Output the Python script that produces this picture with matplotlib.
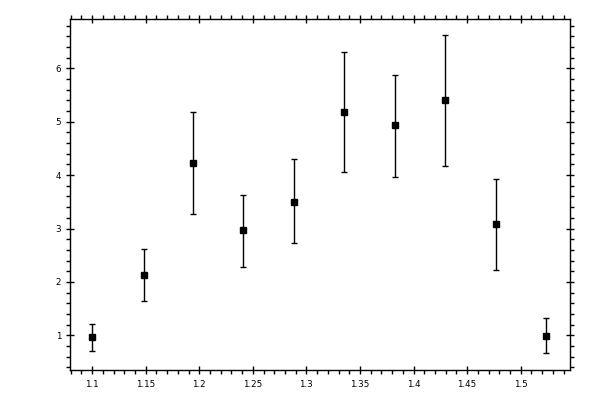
import matplotlib
matplotlib.use("Agg")
import matplotlib.pyplot as plt
from matplotlib.ticker import MultipleLocator

x = [1.1, 1.148, 1.1945, 1.241, 1.2887, 1.3354, 1.383, 1.4296, 1.4766, 1.5239]
y = [0.96, 2.124, 4.22, 2.966, 3.50, 5.18, 4.93, 5.40, 3.08, 0.98]
y_hi = [1.22, 2.61, 5.19, 3.63, 4.31, 6.30, 5.88, 6.62, 3.93, 1.32]
y_lo = [0.70, 1.64, 3.27, 2.27, 2.72, 4.05, 3.96, 4.18, 2.22, 0.66]

err_lo = [a - b for a, b in zip(y, y_lo)]
err_hi = [b - a for a, b in zip(y, y_hi)]

fig = plt.figure(figsize=(6, 4), dpi=100)
ax = fig.add_axes([0.116, 0.075, 0.834, 0.877])
ax.errorbar(x, y, yerr=[err_lo, err_hi], fmt='s', color='black', ms=5,
            ecolor='black', elinewidth=1, capsize=2, capthick=1)

ax.set_xlim(1.079, 1.546)
ax.set_ylim(0.35, 6.92)
ax.xaxis.set_major_locator(MultipleLocator(0.05))
ax.xaxis.set_minor_locator(MultipleLocator(0.01))
ax.yaxis.set_major_locator(MultipleLocator(1))
ax.yaxis.set_minor_locator(MultipleLocator(0.2))
ax.tick_params(which='both', top=True, right=True, labelsize=6.3, width=1, color='black')
ax.tick_params(which='major', direction='inout', length=6, pad=3)
ax.tick_params(which='minor', direction='out', length=3)
ax.tick_params(axis='x', which='major', pad=4)
ax.set_yticks([1, 2, 3, 4, 5, 6])
ax.set_xticks([1.1, 1.15, 1.2, 1.25, 1.3, 1.35, 1.4, 1.45, 1.5])
ax.set_xticklabels(['1.1', '1.15', '1.2', '1.25', '1.3', '1.35', '1.4', '1.45', '1.5'])
ax.set_yticklabels(['1', '2', '3', '4', '5', '6'])
for s in ax.spines.values():
    s.set_linewidth(1)

fig.savefig('out.png', dpi=100)
